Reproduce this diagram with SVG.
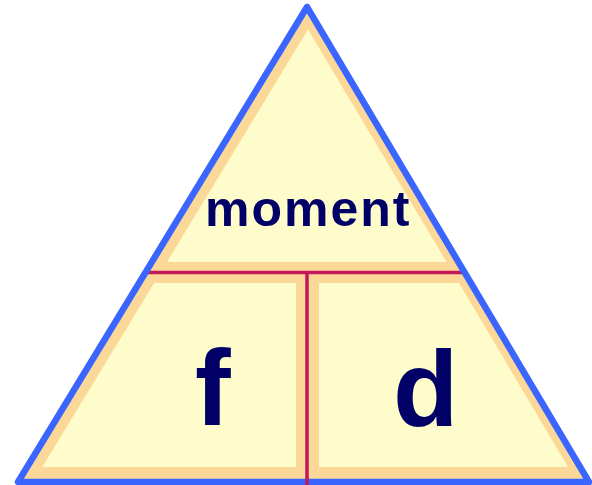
<svg xmlns="http://www.w3.org/2000/svg" width="592" height="485" viewBox="0 0 592 485">
<style>
.band{fill:#FCD898;stroke:none}
.cell{fill:#FFFCCB;stroke:none}
.outline{fill:none;stroke:#3A66FF;stroke-width:6.5;stroke-linejoin:round}
.div{stroke:#C2185B;stroke-width:3.5;fill:none}
.lbl{font-family:"Liberation Sans",Arial,sans-serif;font-weight:bold;fill:#000066}
</style>
<rect width="592" height="485" fill="#FFFFFF"/>
<polygon class="band" points="307,7 18,482 589,482"/>
<g id="moment">
<polygon class="cell" points="308,29.5 167,262 446.5,262"/>
<text class="lbl" x="205" y="226" font-size="50" letter-spacing="2">moment</text>
</g>
<g id="f">
<polygon class="cell" points="154.2,283 296,283 296,467 42.3,467"/>
<text class="lbl" x="195" y="425" font-size="107">f</text>
</g>
<g id="d">
<polygon class="cell" points="319,283 459,283 568,467 319,467"/>
<text class="lbl" x="393" y="426" font-size="107">d</text>
</g>
<g id="connectors">
<line class="div" x1="148" y1="272.5" x2="463" y2="272.5"/>
<polygon class="outline" points="307,7 18,482 589,482"/>
<line class="div" x1="307" y1="272" x2="307" y2="485" stroke-width="4"/>
</g>
</svg>
